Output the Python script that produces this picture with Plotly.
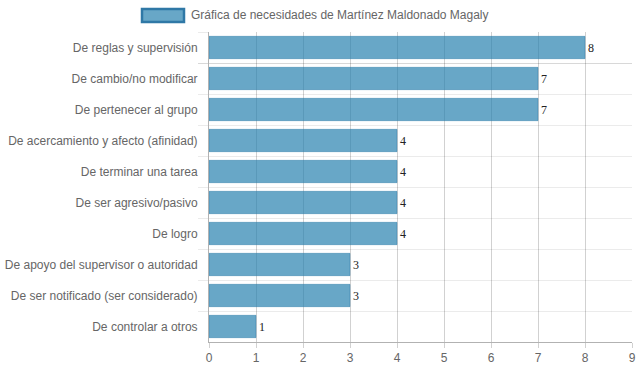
import plotly.graph_objects as go

categories = [
    "De reglas y supervisión",
    "De cambio/no modificar",
    "De pertenecer al grupo",
    "De acercamiento y afecto (afinidad)",
    "De terminar una tarea",
    "De ser agresivo/pasivo",
    "De logro",
    "De apoyo del supervisor o autoridad",
    "De ser notificado (ser considerado)",
    "De controlar a otros",
]
values = [8, 7, 7, 4, 4, 4, 4, 3, 3, 1]
series_name = "Gráfica de necesidades de Martínez Maldonado Magaly"
x_ticks = list(range(0, 10))

W, H = 639, 372
ML, MR, MT, MB = 209, 7, 32, 30
PW, PH = W - ML - MR, H - MT - MB

bar_fill = "rgba(40,130,175,0.70)"
bar_line = "rgba(40,120,165,0.85)"

fig = go.Figure()
fig.add_trace(go.Bar(
    x=values, y=categories, orientation="h", name=series_name,
    marker=dict(color=bar_fill, line=dict(color=bar_line, width=0.5)),
    width=0.72,
    text=[str(v) for v in values], textposition="outside",
    textfont=dict(family="Liberation Serif", size=12, color="#222"),
    cliponaxis=False, showlegend=False,
))

def px_x(p):
    return (p - ML) / PW

def px_y(p):
    return (H - MB - p) / PH

fig.add_shape(type="rect", xref="paper", yref="paper",
              x0=px_x(142), x1=px_x(184), y0=px_y(22), y1=px_y(9),
              fillcolor=bar_fill, line=dict(color="#2f78a6", width=2.5))
fig.add_annotation(xref="paper", yref="paper", x=px_x(189), y=px_y(15),
                   xanchor="left", yanchor="middle", showarrow=False,
                   text=series_name,
                   font=dict(family="Liberation Sans, Arial", size=12, color="#666"))

fig.update_layout(
    width=W, height=H,
    margin=dict(l=ML, r=MR, t=MT, b=MB, autoexpand=False),
    paper_bgcolor="white", plot_bgcolor="white",
    font=dict(family="Liberation Sans, Arial", size=12, color="#666"),
    bargap=0.28,
    showlegend=False,
)
fig.update_xaxes(
    range=[0, 9], tickvals=x_ticks, ticktext=[str(t) for t in x_ticks],
    showgrid=True, gridcolor="rgba(0,0,0,0.18)", gridwidth=1,
    zeroline=False, showline=True, linecolor="rgba(0,0,0,0.3)", linewidth=1,
    ticks="outside", ticklen=5, tickcolor="rgba(0,0,0,0.18)",
    tickfont=dict(size=12, color="#666"),
)
fig.update_yaxes(
    categoryorder="array", categoryarray=categories, autorange="reversed",
    tickson="boundaries", showgrid=True, gridcolor="rgba(0,0,0,0.08)", gridwidth=1,
    ticks="outside", ticklen=10, tickcolor="rgba(0,0,0,0.08)",
    ticklabelstandoff=8,
    showline=True, linecolor="rgba(0,0,0,0.3)", linewidth=1,
    tickfont=dict(size=12, color="#666"),
    zeroline=False,
)

fig.write_html("out.html", post_script="document.body.style.margin='0';",
               config={"displayModeBar": False})
